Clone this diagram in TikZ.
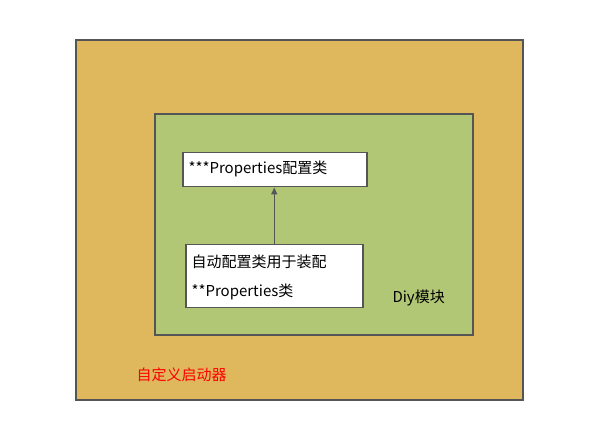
\documentclass[tikz,border=0pt]{standalone}
\usepackage{fontspec}
\setmainfont{Noto Sans CJK SC}
\usetikzlibrary{arrows.meta}
\definecolor{outerc}{HTML}{DFB75D}
\definecolor{innerc}{HTML}{B1C776}
\definecolor{edge}{HTML}{555555}
\tikzset{box/.style={draw=edge,line width=1.5pt},
 txt/.style={font=\fontsize{15}{22}\selectfont}}
\begin{document}
\begin{tikzpicture}[x=1pt,y=-1pt]
\useasboundingbox (0,0) rectangle (602,435);
\draw[box,fill=outerc] (76,40) rectangle (523,400);
\draw[box,fill=innerc] (155,114) rectangle (473,335);
\node[box,fill=white,minimum width=184pt,minimum height=34pt,inner sep=0pt,anchor=north west] (p) at (182,152) {};
\node[txt,anchor=west] at (185,169) {***Properties配置类};
\node[box,fill=white,minimum width=177pt,minimum height=63pt,inner sep=0pt,anchor=north west] (a) at (185,244) {};
\node[txt,anchor=west] at (188,262) {自动配置类用于装配};
\node[txt,anchor=west] at (188,292) {**Properties类};
\draw[edge,line width=1.5pt,-{Triangle[length=7pt,width=6pt]}] (a.north) -- (p.south -| a.north);
\node[txt,anchor=west] (d) at (389,298) {Diy模块};
\node[txt,anchor=west,text=red] (s) at (133,375) {自定义启动器};
\end{tikzpicture}
\end{document}
